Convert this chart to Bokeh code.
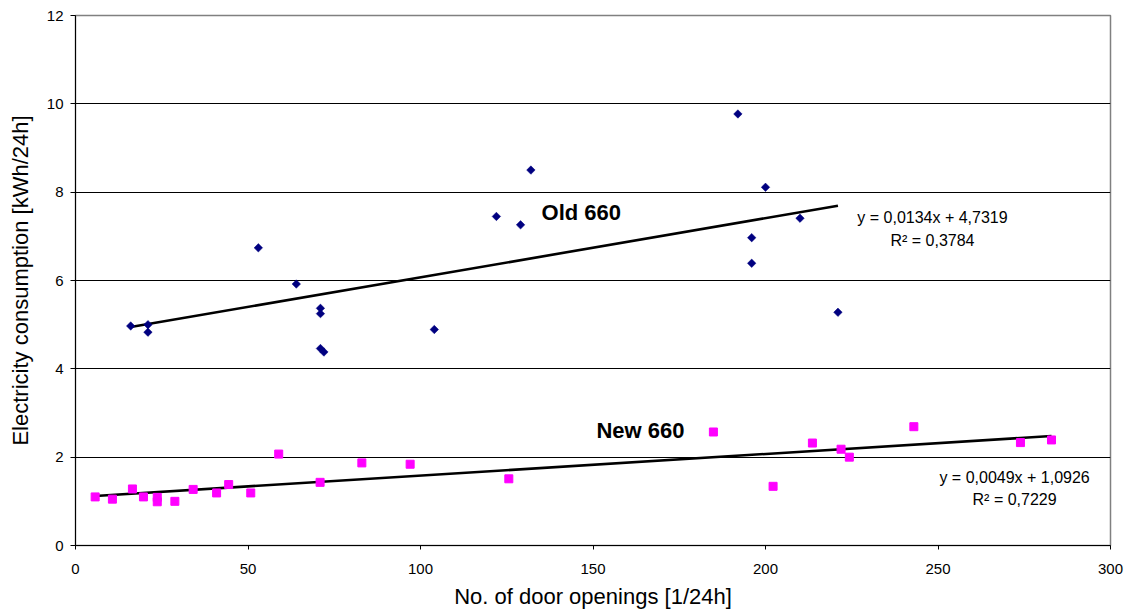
import math
from bokeh.plotting import figure
from bokeh.models import Label, FixedTicker, Range1d
from bokeh.embed import file_html
from bokeh.resources import INLINE

# ---- data ----
old_x = [16, 21, 21, 53, 64, 71, 71, 71, 72, 104, 122, 129, 132, 192, 200, 210, 196, 196, 221]
old_y = [4.97, 5.00, 4.83, 6.74, 5.92, 5.37, 5.25, 4.46, 4.38, 4.89, 7.45, 7.26, 8.50, 9.77, 8.11, 7.41, 6.97, 6.39, 5.28]

new_x = [5.7, 10.7, 16.5, 19.7, 23.7, 23.7, 28.8, 34.1, 40.9, 44.4, 50.8, 58.9, 70.9, 83.0, 97.0, 125.6,
         184.9, 202.2, 213.6, 221.9, 224.3, 243.0, 273.9, 282.9]
new_y = [1.10, 1.05, 1.28, 1.10, 1.09, 0.99, 1.00, 1.27, 1.19, 1.38, 1.19, 2.07, 1.43, 1.87, 1.84, 1.51,
         2.57, 1.34, 2.32, 2.18, 2.00, 2.69, 2.33, 2.39]

old_fit = (0.0134, 4.7319)
new_fit = (0.0049, 1.0926)
old_r2 = "0,3784"
new_r2 = "0,7229"

x_ticks = [0, 50, 100, 150, 200, 250, 300]
y_ticks = [0, 2, 4, 6, 8, 10, 12]

FONT = "Liberation Sans"

p = figure(width=1129, height=611, output_backend="svg", toolbar_location=None,
           x_range=Range1d(0, 300), y_range=Range1d(0, 12),
           min_border_left=75, min_border_top=15, min_border_right=19, min_border_bottom=66)
p.background_fill_color = "white"
p.border_fill_color = "white"
p.outline_line_color = "#808080"
p.outline_line_width = 1.5

p.xgrid.visible = False
p.ygrid.ticker = FixedTicker(ticks=y_ticks)
p.ygrid.grid_line_color = "black"
p.ygrid.grid_line_width = 1

for ax, ticks in ((p.xaxis[0], x_ticks), (p.yaxis[0], y_ticks)):
    ax.ticker = FixedTicker(ticks=ticks)
    ax.axis_line_color = "black"
    ax.axis_line_width = 1
    ax.major_tick_line_color = "black"
    ax.major_tick_in = 0
    ax.minor_tick_line_color = None
    ax.major_label_text_font = FONT
    ax.major_label_text_font_size = "15px"
    ax.major_label_text_color = "black"
    ax.axis_label_text_font = FONT
    ax.axis_label_text_font_size = "22px"
    ax.axis_label_text_font_style = "normal"
    ax.axis_label_text_color = "black"

p.xaxis.axis_label = "No. of door openings [1/24h]"
p.xaxis.major_tick_out = 4
p.xaxis.major_label_standoff = 14
p.xaxis.axis_label_standoff = 7
p.yaxis.axis_label = "Electricity consumption [kWh/24h]"
p.yaxis.major_tick_out = 5
p.yaxis.major_label_standoff = 7
p.yaxis.axis_label_standoff = 11

# trend lines from the displayed equations over each series' x-range
ox = [min(old_x), max(old_x)]
nx = [min(new_x), max(new_x)]
p.line(ox, [old_fit[0] * v + old_fit[1] for v in ox], line_color="black", line_width=2.6)
p.line(nx, [new_fit[0] * v + new_fit[1] for v in nx], line_color="black", line_width=2.6)

p.scatter(old_x, old_y, marker="square", angle=math.pi / 4, size=6,
          fill_color="#000080", line_color="#000080", line_width=0.5)
p.scatter(new_x, new_y, marker="square", size=8,
          fill_color="#FF00FF", line_color="#FF00FF", line_width=1)

# series labels
p.add_layout(Label(x=135.1, y=7.54, text="Old 660", text_font=FONT, text_font_size="22px",
                   text_font_style="bold", text_baseline="middle", text_align="left", text_color="black"))
p.add_layout(Label(x=151.0, y=2.60, text="New 660", text_font=FONT, text_font_size="22px",
                   text_font_style="bold", text_baseline="middle", text_align="left", text_color="black"))

def eq_text(fit):
    a = f"{fit[0]:.4f}".replace(".", ",")
    b = f"{fit[1]:.4f}".replace(".", ",")
    return f"y = {a}x + {b}"

for fit, r2, cx, y1, y2 in ((old_fit, old_r2, 248.4, 7.43, 6.91), (new_fit, new_r2, 272.2, 1.54, 1.04)):
    p.add_layout(Label(x=cx, y=y1, text=eq_text(fit), text_font=FONT, text_font_size="16px",
                       text_baseline="middle", text_align="center", text_color="black"))
    p.add_layout(Label(x=cx, y=y2, text="R\u00b2 = " + r2, text_font=FONT, text_font_size="16px",
                       text_baseline="middle", text_align="center", text_color="black"))

open("out.html", "w").write(file_html(p, INLINE))
